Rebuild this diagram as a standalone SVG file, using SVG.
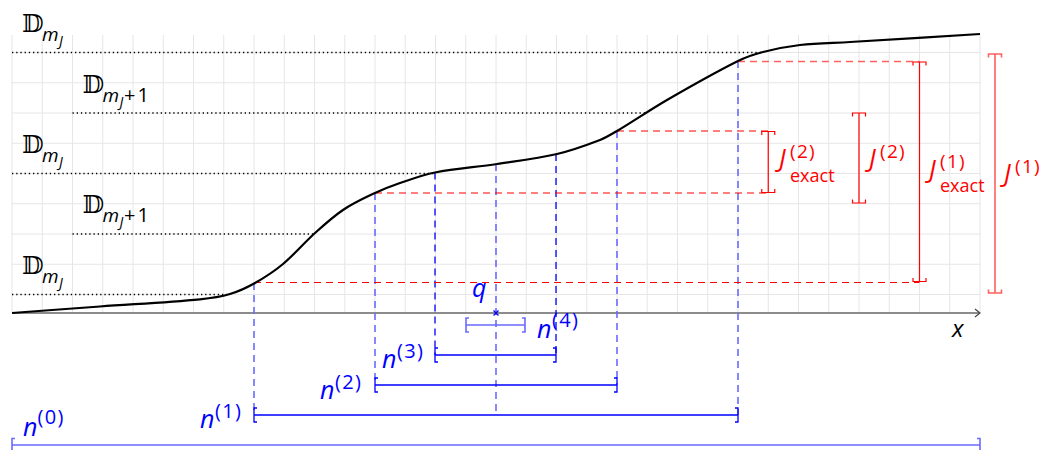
<svg xmlns="http://www.w3.org/2000/svg" width="1048" height="450" viewBox="0 0 1048 450">
<style>
.grid{stroke:#e6e6e6;stroke-width:1;fill:none}
.dot{stroke:#000;stroke-width:1.3;stroke-dasharray:1.3 2.9;fill:none}
.rd{stroke:#ff0000;stroke-width:1.2;stroke-dasharray:7 5;fill:none}
.rdl{stroke:#ff6060;stroke-width:1.5;stroke-dasharray:7 5;fill:none}
.bd{stroke:#0000ff;stroke-width:1.3;stroke-dasharray:7 5;fill:none}
.bdl{stroke:#6a6aff;stroke-width:1.6;stroke-dasharray:7 5;fill:none}
.rb{stroke:#ff0000;stroke-width:1.2;fill:none}
.rbl{stroke:#ff6060;stroke-width:1.6;fill:none}
.bb{stroke:#0000ff;stroke-width:1.3;fill:none}
.bbl{stroke:#6a6aff;stroke-width:1.6;fill:none}
.m{font-family:"Open Sans","DejaVu Sans",sans-serif;font-style:italic}
.u{font-family:"Open Sans","DejaVu Sans",sans-serif;font-style:normal}
.ds{font-family:"DejaVu Serif","DejaVu Sans",serif}
.blue{fill:#0000ff}
.red{fill:#ff0000}
</style>
<g id="grid" class="grid">
<path d="M12 35V313M42.25 35V313M72.5 35V313M102.75 35V313M133 35V313M163.25 35V313M193.5 35V313M223.75 35V313M254 35V313M284.25 35V313M314.5 35V313M344.75 35V313M375 35V313M405.25 35V313M435.5 35V313M465.75 35V313M496 35V313M526.25 35V313M556.5 35V313M586.75 35V313M617 35V313M647.25 35V313M677.5 35V313M707.75 35V313M738 35V313M768.25 35V313M798.5 35V313M828.75 35V313M859 35V313M889.25 35V313M919.5 35V313M949.75 35V313M980 35V313"/>
<path d="M12 52.5H980M12 82.75H980M12 113H980M12 143.25H980M12 173.5H980M12 203.75H980M12 234H980M12 264.25H980M12 294.5H980"/>
</g>
<g id="levels" class="dot">
<path d="M12 52.5H763"/>
<path d="M72.5 113H646"/>
<path d="M12 173.5H434"/>
<path d="M72.5 234H313"/>
<path d="M12 294.5H227"/>
</g>
<g id="axis">
<path d="M12 313H979" stroke="#666" stroke-width="1.5" fill="none"/>
<path d="M975 309L980 313L975 317" stroke="#444" stroke-width="1.2" fill="none"/>
<text class="m" x="952" y="337" font-size="24" fill="#000">x</text>
</g>
<g id="connectors">
<path class="bdl" d="M254 283V415"/>
<path class="bdl" d="M375 193V385"/>
<path class="bd" d="M435 172.5V355"/>
<path class="bdl" d="M496 164V415"/>
<path class="bd" d="M556 154V355"/>
<path class="bdl" d="M617 131V385"/>
<path class="bdl" d="M738 61V415"/>
<path class="rdl" d="M738 61.5H919.5"/>
<path class="rd" d="M617 131H768"/>
<path class="rd" d="M375 193H768"/>
<path class="rd" d="M254 282.5H919.5"/>
</g>
<g id="curve">
<path d="M12,313 C41.33,310.83 70.67,308.64 100,306.5 C133.33,304.07 166.67,302.51 200,299.3 C210,298.34 220,296.96 230,294 C238.33,291.53 246.67,287.72 255,283 C264.33,277.72 273.67,271.78 283,264 C293.67,255.11 304.33,242.6 315,233 C324.33,224.6 333.67,216.22 343,210 C353.67,202.89 364.33,198.06 375,193 C383.33,189.05 391.67,185.85 400,183 C411.67,179.01 423.33,174.79 435,172.5 C455.67,168.45 476.33,167.14 497,164 C517,160.96 537,158.66 557,154 C571.33,150.66 585.67,145.49 600,140 C605.67,137.83 611.33,134.38 617,131 C633.67,121.05 650.33,109.65 667,100 C690.67,86.3 714.33,72.83 738,61 C746.33,56.83 754.67,54.15 763,52 C775.33,48.82 787.67,46.42 800,45 C816.67,43.08 833.33,43.02 850,42 C893.33,39.35 936.67,36.67 980,34" stroke="#000" stroke-width="2.2" fill="none"/>
</g>
<g id="D1"><text class="ds" x="22" y="32" font-size="25">𝔻</text><text class="m" x="42" y="41" font-size="19">m</text><text class="m" x="59" y="46" font-size="14">J</text></g>
<g id="D2"><text class="ds" x="82.5" y="92.5" font-size="25">𝔻</text><text class="m" x="102.5" y="101.5" font-size="19">m</text><text class="m" x="119.5" y="106.5" font-size="14">J</text><text class="u" x="124" y="101.5" font-size="20" letter-spacing="2">+1</text></g>
<g id="D3"><text class="ds" x="22" y="153" font-size="25">𝔻</text><text class="m" x="42" y="162" font-size="19">m</text><text class="m" x="59" y="167" font-size="14">J</text></g>
<g id="D4"><text class="ds" x="82.5" y="213" font-size="25">𝔻</text><text class="m" x="102.5" y="222" font-size="19">m</text><text class="m" x="119.5" y="227" font-size="14">J</text><text class="u" x="124" y="222" font-size="20" letter-spacing="2">+1</text></g>
<g id="D5"><text class="ds" x="22" y="274" font-size="25">𝔻</text><text class="m" x="42" y="283" font-size="19">m</text><text class="m" x="59" y="288" font-size="14">J</text></g>
<g id="q"><path d="M493.5 310.5L498.5 315.5M498.5 310.5L493.5 315.5" stroke="#0000ff" stroke-width="1.2"/><text class="m blue" x="472" y="297" font-size="25">q</text></g>
<g id="n4"><path class="bbl" d="M466 325H525M469 318H466V332H469M522 318H525V332H522"/><text class="m blue" x="537" y="338" font-size="25">n</text><text class="u blue" x="552" y="327" font-size="20" letter-spacing="1.3">(4)</text></g>
<g id="n3"><path class="bb" d="M435 355H556M438 348H435V362H438M553 348H556V362H553"/><text class="m blue" x="382" y="368" font-size="25">n</text><text class="u blue" x="397" y="358" font-size="20" letter-spacing="1.3">(3)</text></g>
<g id="n2"><path class="bb" d="M375 385H617M378 378H375V392H378M614 378H617V392H614"/><text class="m blue" x="320" y="399" font-size="25">n</text><text class="u blue" x="335" y="389" font-size="20" letter-spacing="1.3">(2)</text></g>
<g id="n1"><path class="bb" d="M254 415H738M257 408H254V422H257M735 408H738V422H735"/><text class="m blue" x="200" y="428" font-size="25">n</text><text class="u blue" x="215" y="418" font-size="20" letter-spacing="1.3">(1)</text></g>
<g id="n0"><path class="bbl" d="M12 445H980M15 438.5H12V452M977 438.5H980V452"/><text class="m blue" x="23" y="436" font-size="25">n</text><text class="u blue" x="37.5" y="424" font-size="20" letter-spacing="1.3">(0)</text></g>
<g id="Jex2"><path class="rb" d="M768.25 131.5V192.5M761.75 135V131.5H774.75V135M761.75 189V192.5H774.75V189"/><text class="m red" x="779" y="167" font-size="25">J</text><text class="u red" x="790" y="158" font-size="19" letter-spacing="1.3">(2)</text><text class="u red" x="790" y="182" font-size="18">exact</text></g>
<g id="J2"><path class="rb" d="M859 113V203M852.5 116.5V113H865.5V116.5M852.5 199.5V203H865.5V199.5"/><text class="m red" x="869" y="167" font-size="25">J</text><text class="u red" x="880" y="158" font-size="19" letter-spacing="1.3">(2)</text></g>
<g id="Jex1"><path class="rb" d="M919.5 62V281.5M913 65.5V62H926V65.5M913 278V281.5H926V278"/><text class="m red" x="929" y="178" font-size="25">J</text><text class="u red" x="940" y="168" font-size="19" letter-spacing="1.3">(1)</text><text class="u red" x="940" y="192" font-size="18">exact</text></g>
<g id="J1"><path class="rbl" d="M995 54V293M988.5 57.5V54H1001.5V57.5M988.5 289.5V293H1001.5V289.5"/><text class="m red" x="1004" y="182" font-size="25">J</text><text class="u red" x="1015" y="173" font-size="19" letter-spacing="1.3">(1)</text></g>
</svg>
